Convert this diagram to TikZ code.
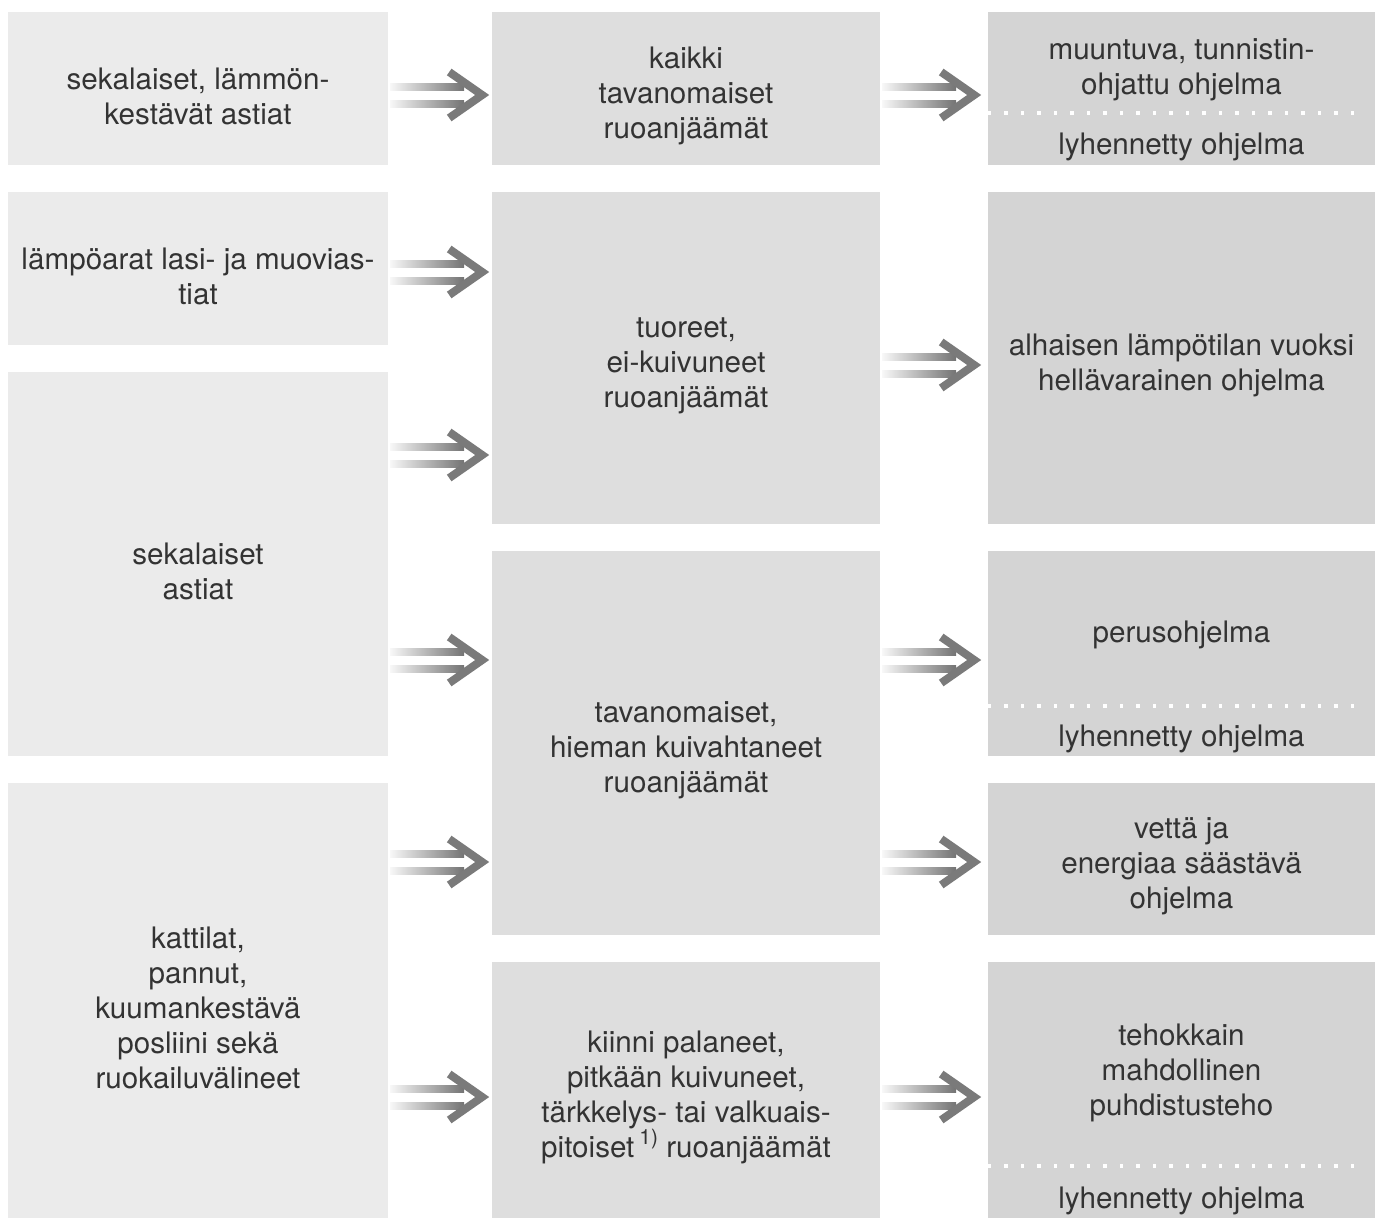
\documentclass[tikz,border=0pt]{standalone}
\usepackage{fontspec}
\setmainfont{TeX Gyre Heros}
\usepackage{tikz}

\begin{document}
\begin{tikzpicture}[x=1pt,y=-1pt,
    lbox/.style={rectangle,fill=black!8,minimum width=380,inner sep=0},
    mbox/.style={rectangle,fill=black!13,minimum width=388,inner sep=0},
    rbox/.style={rectangle,fill=black!17,minimum width=387,inner sep=0},
    txt/.style={align=center,text=black!80,inner sep=0,font=\fontsize{29.6}{35}\selectfont},
    divider/.style={draw=white,line width=3.5pt,dash pattern=on 3.5pt off 13pt,shorten >=10pt},
    twin arrow/.pic={
      \shade[left color=black!3,right color=black!55] (0,-12) rectangle (74,-5);
      \shade[left color=black!3,right color=black!55] (0,5.5) rectangle (74,12.5);
      \draw[black!52,line width=8pt,miter limit=10] (59,-23) -- (92,0) -- (59,23);
    }]
  \fill[white] (0,0) rectangle (1381,1223);
  \useasboundingbox (0,0) rectangle (1381,1223);

  \node[lbox,minimum height=153] (L1) at (198,88.5) {};
  \node[lbox,minimum height=153] (L2) at (198,268.5) {};
  \node[lbox,minimum height=384] (L3) at (198,564) {};
  \node[lbox,minimum height=435] (L4) at (198,1000.5) {};

  \node[mbox,minimum height=153] (M1) at (686,88.5) {};
  \node[mbox,minimum height=332] (M2) at (686,358) {};
  \node[mbox,minimum height=384] (M3) at (686,743) {};
  \node[mbox,minimum height=256] (M4) at (686,1090) {};

  \node[rbox,minimum height=153] (R1) at (1181.5,88.5) {};
  \node[rbox,minimum height=332] (R2) at (1181.5,358) {};
  \node[rbox,minimum height=205] (R3) at (1181.5,653.5) {};
  \node[rbox,minimum height=152] (R4) at (1181.5,859) {};
  \node[rbox,minimum height=256] (R5) at (1181.5,1090) {};

  \node[txt] (L1t) at ([yshift=-7.5pt]L1.center) {sekalaiset, lämmön-\\kestävät astiat};
  \node[txt] (L2t) at ([yshift=-7.5pt]L2.center) {lämpöarat lasi- ja muovias-\\tiat};
  \node[txt] (L3t) at ([yshift=-7.5pt]L3.center) {sekalaiset\\astiat};
  \node[txt] (L4t) at ([yshift=-7.5pt]L4.center) {kattilat,\\pannut,\\kuumankestävä\\posliini sekä\\ruokailuvälineet};

  \node[txt] (M1t) at ([yshift=-7.5pt]M1.center) {kaikki\\tavanomaiset\\ruoanjäämät};
  \node[txt] (M2t) at ([yshift=-7.5pt]M2.center) {tuoreet,\\ei-kuivuneet\\ruoanjäämät};
  \node[txt] (M3t) at ([yshift=-7.5pt]M3.center) {tavanomaiset,\\hieman kuivahtaneet\\ruoanjäämät};
  \node[txt] (M4t) at ([yshift=-7.5pt]M4.center) {kiinni palaneet,\\pitkään kuivuneet,\\tärkkelys- tai valkuais-\\pitoiset\,\raisebox{13pt}{\fontsize{21}{21}\selectfont 1)} ruoanjäämät};

  \node[txt] (R1t) at (1181.5,70) {muuntuva, tunnistin-\\ohjattu ohjelma};
  \node[txt] (R1s) at (1181.5,147) {lyhennetty ohjelma};
  \node[txt] (R2t) at ([yshift=-7.5pt]R2.center) {alhaisen lämpötilan vuoksi\\hellävarainen ohjelma};
  \node[txt] (R3t) at (1181.5,635) {perusohjelma};
  \node[txt] (R3s) at (1181.5,739) {lyhennetty ohjelma};
  \node[txt] (R4t) at ([yshift=-7.5pt]R4.center) {vettä ja\\energiaa säästävä\\ohjelma};
  \node[txt] (R5t) at (1181.5,1073) {tehokkain\\mahdollinen\\puhdistusteho};
  \node[txt] (R5s) at (1181.5,1201) {lyhennetty ohjelma};

  \draw[divider] (R1.west |- 0,113) -- (R1.east |- 0,113);
  \draw[divider] (R3.west |- 0,706) -- (R3.east |- 0,706);
  \draw[divider] (R5.west |- 0,1166) -- (R5.east |- 0,1166);

  \foreach \a/\y in {L1/95,L2/272,L3/455,L3/660,L4/862,L4/1097,
                     M1/95,M2/365,M3/660,M3/862,M4/1097}
    \pic[xshift=2pt] at (\a.east |- 0,\y) {twin arrow};
\end{tikzpicture}
\end{document}
